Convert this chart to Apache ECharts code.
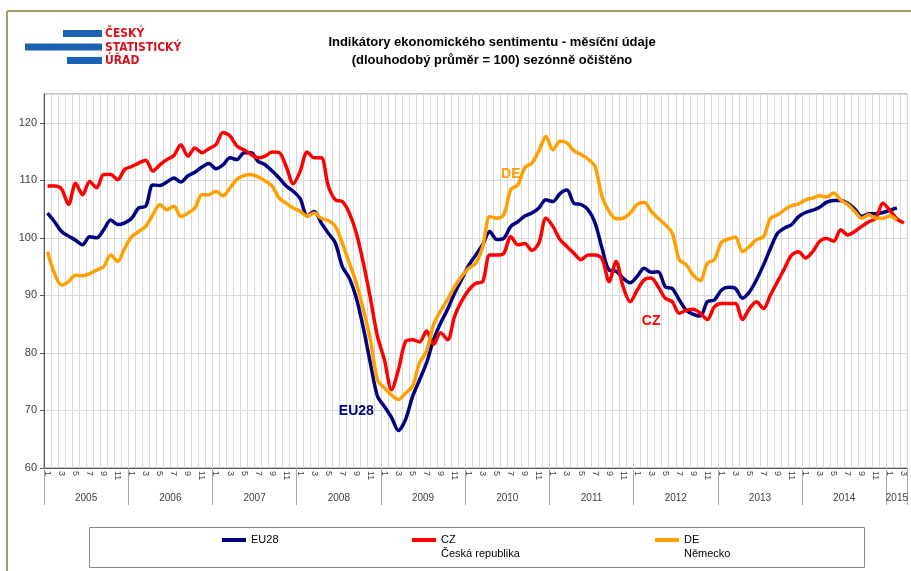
<!DOCTYPE html>
<html>
<head>
<meta charset="utf-8">
<title>Indikátory ekonomického sentimentu</title>
<script src="https://cdn.jsdelivr.net/npm/echarts@6/dist/echarts.min.js"></script>
<style>
html, body { margin: 0; padding: 0; background: #fff; }
#chart { width: 911px; height: 571px; }
</style>
</head>
<body>
<div id="chart"></div>
<script>
// roky na ose x (2015 jen leden-březen)
var years = [2005, 2006, 2007, 2008, 2009, 2010, 2011, 2012, 2013, 2014, 2015];
var lastYearMonths = 3;

// mesicni hodnoty, 2005/01 - 2015/03
var eu28 = [
    104.3, 102.8, 101.1, 100.3, 99.6, 98.8, 100.2, 100.0, 101.4, 103.1, 102.3, 102.6,
    103.4, 105.2, 105.5, 109.2, 109.1, 109.7, 110.4, 109.7, 110.8, 111.4, 112.3, 112.9,
    112.0, 112.7, 113.9, 113.6, 114.8, 114.8, 113.3, 112.7, 111.6, 110.4, 109.0, 108.1,
    106.8, 103.8, 104.6, 102.6, 100.8, 99.1, 95.0, 93.0, 89.5, 84.3, 78.2, 72.5,
    70.7, 68.8, 66.5, 68.4, 72.4, 75.3, 78.3, 82.3, 85.2, 87.6, 90.4, 92.8,
    95.2, 97.0, 98.8, 101.1, 99.7, 99.9, 102.0, 102.8, 103.8, 104.3, 105.2, 106.6,
    106.3, 107.7, 108.3, 106.0, 105.8, 104.9, 102.6, 98.2, 94.4, 94.2, 93.0, 92.2,
    93.3, 94.7, 94.0, 94.1, 91.5, 91.2, 89.2, 87.4, 86.7, 86.4, 88.9, 89.2,
    90.9, 91.4, 91.2, 89.5, 90.6, 92.7, 95.3, 98.2, 100.8, 101.7, 102.3, 103.7,
    104.4, 104.8, 105.3, 106.2, 106.5, 106.5, 106.0, 105.0, 103.7, 104.2, 104.2, 104.4,
    104.8, 105.2, null
];
var cz = [
    109.0, 109.0, 108.5, 105.8, 109.5, 107.5, 109.8, 108.7, 111.0, 111.0, 110.1, 111.9,
    112.4, 113.0, 113.5, 111.6, 112.7, 113.6, 114.3, 116.2, 114.2, 115.6, 114.8, 115.5,
    116.2, 118.3, 117.7, 115.9, 115.3, 114.5, 113.9, 114.2, 114.9, 114.8, 112.4, 109.4,
    111.6, 114.9, 113.9, 113.9, 109.0, 106.6, 106.3, 104.3, 100.8, 95.6, 89.5, 82.9,
    78.8, 73.6, 77.1, 82.0, 82.3, 81.9, 83.8, 81.5, 83.5, 82.3, 86.4, 89.0,
    90.9, 92.1, 92.4, 97.0, 97.0, 97.3, 100.2, 98.8, 99.0, 97.8, 99.1, 103.4,
    102.0, 99.7, 98.5, 97.3, 96.2, 97.0, 97.0, 96.4, 92.4, 95.9, 91.5, 88.9,
    90.9, 92.7, 93.0, 91.5, 89.5, 88.9, 86.9, 87.4, 87.6, 86.9, 85.8, 88.0,
    88.6, 88.6, 88.6, 85.8, 87.7, 88.9, 87.7, 90.1, 92.4, 94.7, 97.0, 97.6,
    96.5, 97.6, 99.4, 99.9, 99.4, 101.4, 100.5, 101.1, 102.0, 102.8, 103.4, 106.0,
    104.8, 103.3, 102.6
];
var de = [
    97.6, 93.8, 91.8, 92.4, 93.5, 93.4, 93.8, 94.4, 95.0, 97.0, 95.9, 98.2,
    100.2, 101.1, 102.0, 104.0, 105.8, 104.9, 105.5, 103.7, 104.3, 105.2, 107.5, 107.5,
    108.1, 107.3, 108.7, 110.2, 110.8, 111.0, 110.6, 109.9, 109.0, 106.9, 106.0, 105.2,
    104.6, 103.8, 104.3, 103.4, 103.0, 102.0, 99.1, 95.6, 92.1, 87.5, 82.3, 75.3,
    73.9, 72.7, 71.9, 73.0, 74.2, 78.3, 80.3, 84.9, 87.3, 89.3, 91.5, 93.3,
    94.7, 95.6, 98.5, 103.7, 103.4, 104.0, 108.4, 109.2, 112.2, 113.0, 115.1, 117.6,
    115.3, 116.8, 116.5, 115.1, 114.5, 113.7, 112.4, 107.2, 104.6, 103.3, 103.4, 104.3,
    105.8, 106.2, 104.6, 103.4, 102.3, 100.8, 96.2, 95.3, 93.5, 92.6, 95.6, 96.2,
    99.2, 99.8, 100.1, 97.6, 98.5, 99.7, 100.2, 103.4, 104.0, 104.9, 105.6, 105.9,
    106.6, 106.9, 107.3, 107.1, 107.8, 106.6, 105.8, 104.6, 103.4, 104.0, 103.4, 103.4,
    103.8, 103.1, null
];

var seriesNames = ['EU28', 'CZ', 'DE'];
var countryNames = ['', 'Česká republika', 'Německo'];
var colors = ['#000080', '#ff0000', '#ffa000'];

// mesice jako kategorie + hranice a stredy roku
var months = [];
var yearEdges = [0];
years.forEach(function (y, k) {
    var n = k === years.length - 1 ? lastYearMonths : 12;
    for (var m = 1; m <= n; m++) months.push(String(m));
    yearEdges.push(months.length);
});
var yearMids = [];
for (var k = 0; k < years.length; k++) {
    yearMids.push((yearEdges[k] + yearEdges[k + 1]) / 2);
}

var font = 'Liberation Sans, Arial, sans-serif';
var logoFont = 'bold 12px "DejaVu Sans Condensed", "Liberation Sans Narrow", sans-serif';
var chart = echarts.init(document.getElementById('chart'));

function legendFor(idx, left, top) {
    var twoLines = countryNames[idx] !== '';
    return {
        data: [seriesNames[idx]],
        left: left,
        top: top,
        padding: 0,
        selectedMode: false,
        icon: 'rect',
        itemWidth: 24,
        itemHeight: 4,
        formatter: function (name) {
            // prazdny prvni radek -> nazev je na urovni znacky, zeme pod nim
            return twoLines ? '\n' + name + '\n' + countryNames[idx] : name;
        },
        textStyle: {
            fontFamily: font,
            fontSize: 11,
            color: '#000',
            lineHeight: 14
        }
    };
}

function note(text, i, v, color) {
    return {
        symbol: 'circle',
        symbolSize: 0,
        data: [{ coord: [i, v] }],
        label: {
            show: true,
            position: 'inside',
            formatter: text,
            color: color,
            fontFamily: font,
            fontWeight: 'bold',
            fontSize: 14
        }
    };
}

var option = {
    animation: false,
    backgroundColor: '#fff',
    textStyle: { fontFamily: font },
    title: {
        text: 'Indikátory ekonomického sentimentu - měsíční údaje\n(dlouhodobý průměr = 100) sezónně očištěno',
        left: 487,
        top: 28,
        textAlign: 'center',
        textStyle: {
            fontFamily: font,
            fontSize: 13,
            fontWeight: 'bold',
            color: '#000',
            lineHeight: 18
        }
    },
    legend: [
        legendFor(0, 222, 533),
        legendFor(1, 412, 519),
        legendFor(2, 655, 519)
    ],
    grid: {
        left: 44,
        right: 3,
        top: 94,
        bottom: 103,
        show: true,
        borderColor: '#8a8a8a',
        borderWidth: 1
    },
    xAxis: [
        {
            type: 'category',
            data: months,
            boundaryGap: true,
            axisLine: { lineStyle: { color: '#595959', width: 1 } },
            axisTick: { interval: 0, length: 17, lineStyle: { color: '#a6a6a6' } },
            axisLabel: {
                interval: 1,
                rotate: -90,
                margin: 3,
                fontSize: 9,
                color: '#404040',
                fontFamily: font
            },
            splitLine: { show: true, interval: 0, lineStyle: { color: '#d9d9d9' } }
        },
        {
            type: 'value',
            min: 0,
            max: months.length,
            position: 'bottom',
            axisLine: { show: false },
            axisTick: {
                show: true,
                length: 37,
                customValues: yearEdges,
                lineStyle: { color: '#a6a6a6' }
            },
            axisLabel: {
                customValues: yearMids,
                margin: 25,
                fontSize: 10,
                color: '#404040',
                fontFamily: font,
                formatter: function (v) {
                    return String(years[Math.floor(v / 12)]);
                }
            },
            splitLine: { show: false }
        }
    ],
    yAxis: {
        type: 'value',
        min: 60,
        max: 125,
        interval: 10,
        axisLine: { show: true, lineStyle: { color: '#595959' } },
        axisTick: { show: true, length: 4, lineStyle: { color: '#595959' } },
        axisLabel: {
            margin: 7,
            fontSize: 11,
            color: '#404040',
            fontFamily: font,
            showMaxLabel: false,
            formatter: function (v) { return v % 10 === 0 ? String(v) : ''; }
        },
        splitLine: { lineStyle: { color: '#d9d9d9' } }
    },
    series: [
        {
            name: seriesNames[0], type: 'line', data: eu28, smooth: 0.3,
            showSymbol: false, symbol: 'none',
            lineStyle: { color: colors[0], width: 3.5 }, itemStyle: { color: colors[0] },
            markPoint: note('EU28', 44, 69.8, colors[0])
        },
        {
            name: seriesNames[1], type: 'line', data: cz, smooth: 0.3,
            showSymbol: false, symbol: 'none',
            lineStyle: { color: colors[1], width: 3.5 }, itemStyle: { color: colors[1] },
            markPoint: note('CZ', 86, 85.5, colors[1])
        },
        {
            name: seriesNames[2], type: 'line', data: de, smooth: 0.3,
            showSymbol: false, symbol: 'none',
            lineStyle: { color: colors[2], width: 3.5 }, itemStyle: { color: colors[2] },
            markPoint: note('DE', 66, 111.0, colors[2])
        }
    ],
    graphic: [
        // ramecek
        { type: 'line', shape: { x1: 7, y1: 11, x2: 911, y2: 11 }, style: { stroke: '#a39d6b', lineWidth: 2 } },
        { type: 'line', shape: { x1: 7, y1: 11, x2: 7, y2: 571 }, style: { stroke: '#a39d6b', lineWidth: 2 } },
        // logo CSU
        { type: 'rect', shape: { x: 63, y: 30, width: 39, height: 7 }, style: { fill: '#1b63b2' } },
        { type: 'rect', shape: { x: 25, y: 43.5, width: 77, height: 7 }, style: { fill: '#1b63b2' } },
        { type: 'rect', shape: { x: 67, y: 57, width: 35, height: 7 }, style: { fill: '#1b63b2' } },
        { type: 'text', x: 105, y: 34, style: { text: 'ČESKÝ', fill: '#d7141e', font: logoFont, verticalAlign: 'middle' } },
        { type: 'text', x: 105, y: 47.5, style: { text: 'STATISTICKÝ', fill: '#d7141e', font: logoFont, verticalAlign: 'middle' } },
        { type: 'text', x: 105, y: 61, style: { text: 'ÚŘAD', fill: '#d7141e', font: logoFont, verticalAlign: 'middle' } },
        // ramecek legendy
        { type: 'rect', shape: { x: 89.5, y: 527.5, width: 775, height: 40 }, style: { fill: 'none', stroke: '#8a8a8a', lineWidth: 1 } }
    ]
};

chart.setOption(option);
</script>
</body>
</html>
